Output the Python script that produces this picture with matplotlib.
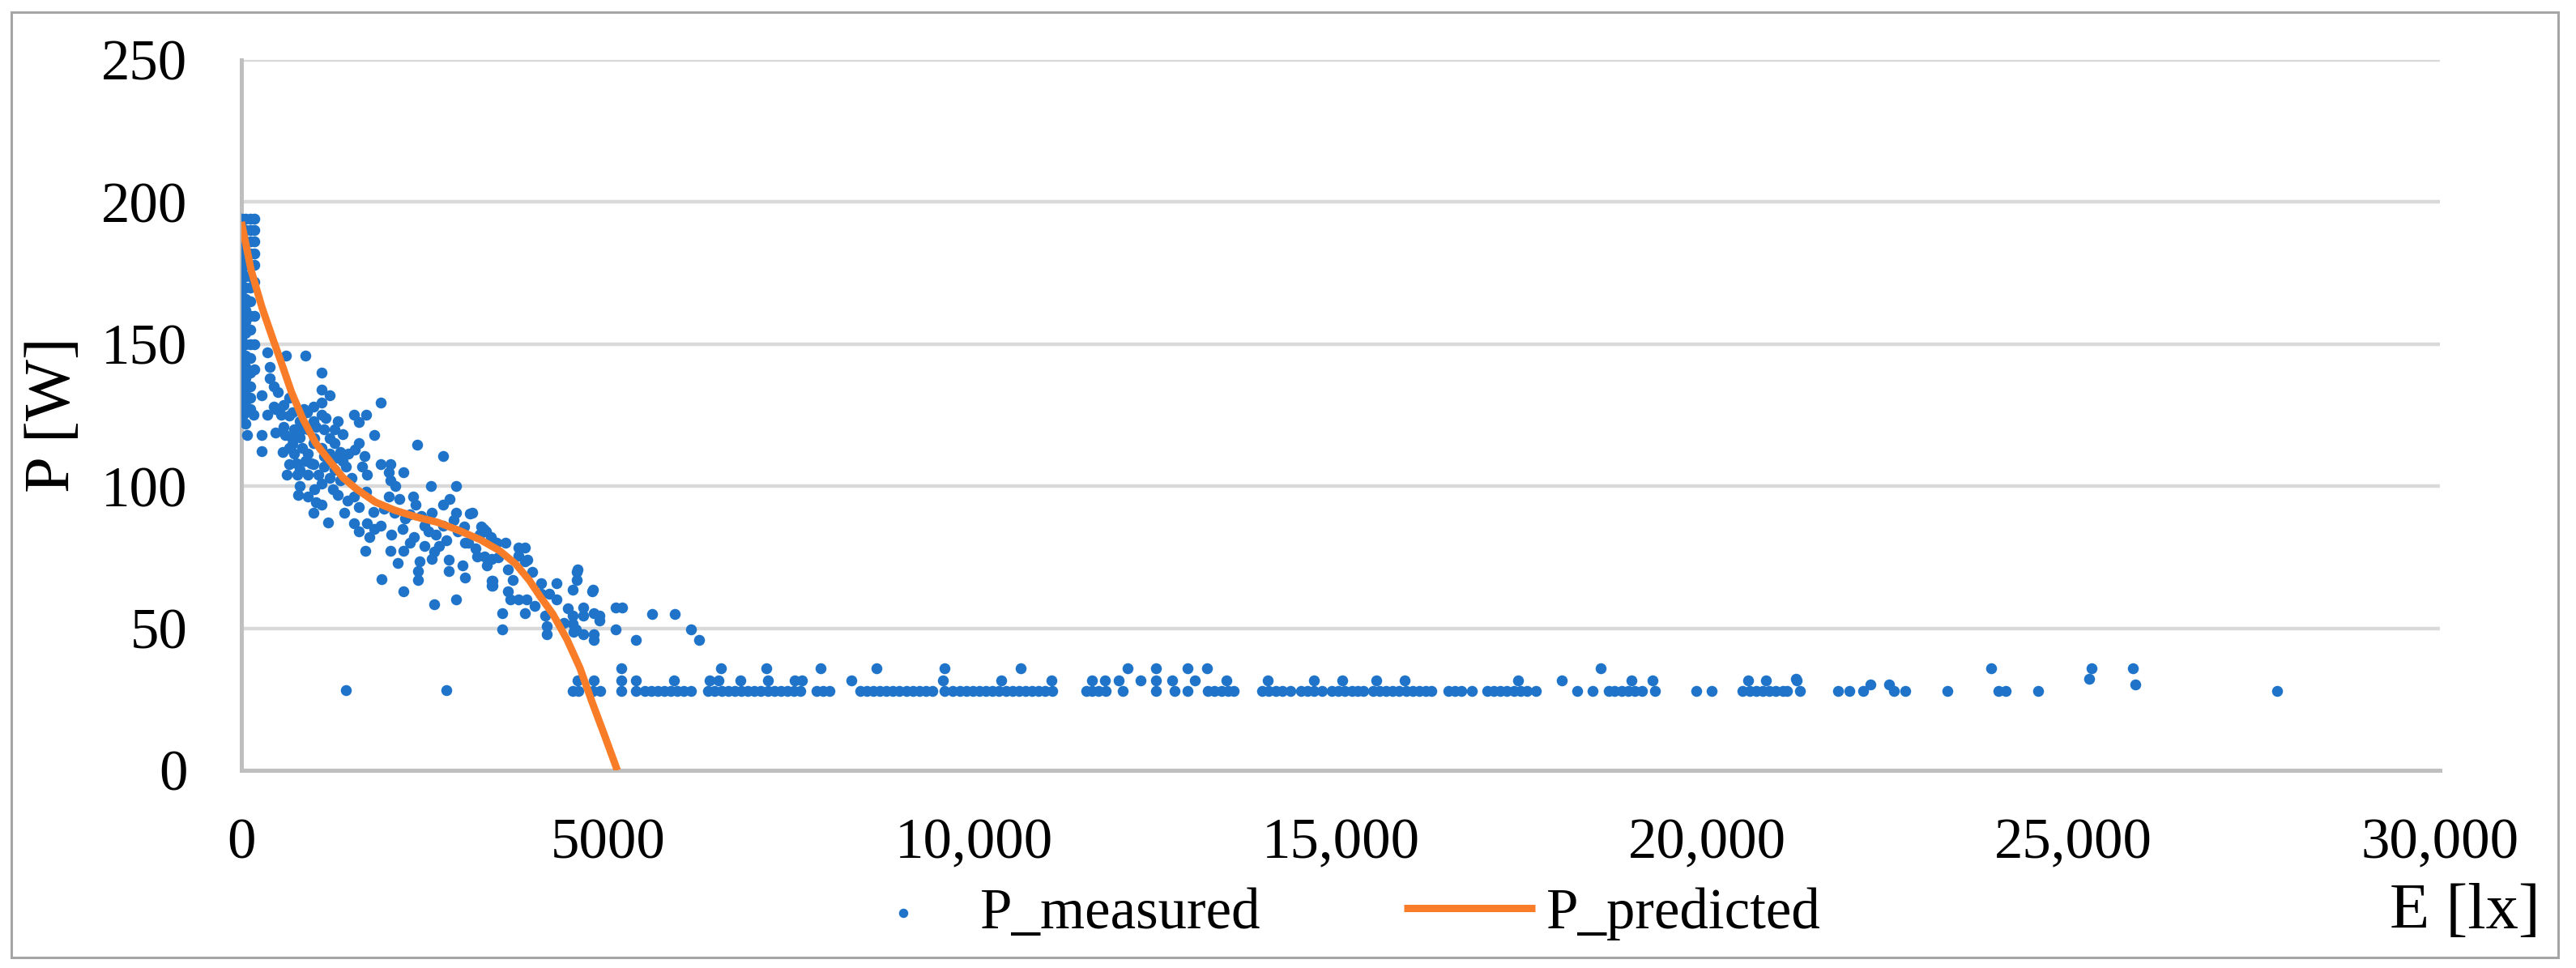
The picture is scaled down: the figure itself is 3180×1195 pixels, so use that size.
import matplotlib
matplotlib.use('Agg')
import matplotlib.pyplot as plt
from matplotlib.patches import Rectangle

plt.rcParams['font.family'] = ['Liberation Serif', 'DejaVu Serif']

# column of points at very low illuminance
E_column = [0, 0, 0, 0, 0, 0, 0, 0, 0, 0, 0, 0, 0, 0, 0, 0, 0, 0, 0, 0, 0, 0, 0,
            60, 60, 60, 60, 60, 60, 60, 60, 60, 60, 60, 60, 60, 60, 60, 60, 60, 60, 60,
            120, 120, 120, 120, 120, 120, 120, 120, 120, 120, 120, 120, 120, 120, 120, 120,
            180, 180, 180, 180, 180, 180, 180, 180, 180]
P_column = [194, 191, 188, 185, 182, 179, 176, 173, 170, 167, 164, 161, 158, 155, 152, 149, 146, 143, 140, 137, 134, 131, 128,
            194, 190, 186, 182, 178, 174, 170, 166, 162, 158, 154, 150, 146, 142, 138, 134, 130, 126, 122,
            194, 190, 186, 182, 178, 174, 170, 165, 160, 155, 150, 145, 140, 135, 131, 127,
            194, 190, 186, 182, 178, 172, 160, 150, 141]

# decreasing cloud between 300 and 3500 lx
E_mid = [354, 612, 870, 391, 391, 446, 1091, 1091, 1201, 1091, 980, 1901, 446, 280, 1533, 1699, 1607, 1091,
         1809, 2399, 2749, 464, 22, 170, 354, 464, 77, 280, 280,
         575, 649, 575, 685, 796, 906, 1017, 1128, 1312, 1386, 1275, 1201, 1091, 980, 833, 722, 649, 796,
         980, 1128, 1275, 1422, 1349, 1091, 906, 722, 906, 649, 1275, 980, 796, 1128, 1459,
         700, 850, 1000, 1200, 1350, 750, 870, 1050, 1200, 1380, 560, 620,
         1607, 1681, 1643, 1717, 1901, 2030, 2012, 2030, 2215, 2583, 2933, 796, 778, 906, 1017, 1091, 1312,
         980, 1183, 1404, 1533, 1607, 1533, 1717, 1809, 2012, 2159, 2344, 2381, 2086, 2233, 2454, 2602,
         2749, 2841, 2933, 3154, 3044, 3302,
         1600, 1750, 1900, 2050, 2200, 2350, 2500, 2650, 2800, 2950, 3100, 3250, 1690, 2036, 2208, 2134,
         2430, 2603, 1912, 2208, 2924, 2628, 3220, 3319, 3121, 3269, 3417, 2406, 2406, 2628, 2825, 2825,
         3022, 2300, 2700, 3047, 3417, 3417,
         500, 540, 600, 650, 700, 760, 820, 900, 950, 1000, 1150, 1250, 1300, 1450, 1500, 1550, 1700,
         1800, 1950, 2100, 2300, 2500, 2550, 2750, 2900, 3050, 3200]
P_mid = [147, 146, 146, 142, 138, 135, 140, 134, 132, 129.5, 128, 129.5, 128, 132, 125, 125, 122.5, 125,
         118, 114.5, 110.5, 119, 125, 125, 125, 127, 118, 118, 112.4,
         128.6, 124.8, 121, 117.2, 122.9, 120, 121, 120, 122.9, 118.2, 115.3, 111.5, 113.4, 115.3, 113.4, 111.5, 107.7, 105.8,
         107.7, 106.8, 105.8, 106.8, 102, 101, 103.9, 120, 111.5, 113.4, 120, 122.9, 117.2, 110.6, 111.5,
         126, 127, 117, 117, 112, 108, 109, 104, 103, 109, 112, 104,
         115.3, 110.6, 106.8, 103.9, 107.7, 107.7, 104.9, 102, 104.9, 100, 100, 100.1, 96.8, 96.3, 94.4, 93.4, 96.8,
         90.6, 87.3, 90.6, 96.3, 92.5, 86.8, 86.8, 84.9, 96.3, 95.4, 96.3, 93.5, 90.6, 88.7, 89.6, 90.6,
         93.5, 95.4, 90.6, 90.6, 85.8, 84.9,
         84, 82, 86, 83, 85, 82, 86, 83, 81, 84, 80, 83, 77.3, 77.3, 77.3, 73,
         73.4, 74.4, 67.3, 63, 60.2, 58.3, 75.3, 75.3, 90.5, 85.8, 81, 70, 67, 77, 74, 70,
         72, 80, 79, 67.7, 66.8, 64.9,
         133, 125, 118, 131, 115, 104, 120, 126, 108, 99, 124, 99, 110, 95, 103, 113, 98,
         91, 92, 100, 90, 79, 84, 86, 88, 80, 78]

# steep part between 3300 and 6300 lx
E_drop = [3338, 3400, 3485, 3412, 3430, 3430, 3633, 3633, 3780, 3872, 3780, 3872, 3964, 3670, 3780, 3890,
          4093, 4093, 4296, 4296, 4572, 4572, 4517, 4794, 3559, 3559, 3872, 4149, 4167, 4167, 4517, 4517,
          4535, 4665, 4665, 4812, 4886, 4886, 4812, 4812, 5107, 5199, 5107, 5383, 5604, 5918, 6139, 6249,
          4582, 4789, 4567, 4666, 3350, 3500, 3600, 3700, 3900, 4000, 4200, 4400, 4450]
P_drop = [84, 82, 80, 74.4, 66.8, 65, 70.6, 63.1, 78.3, 78.3, 75.4, 73.5, 69.7, 60.2, 60.2, 60.2,
          65.9, 62.1, 65.9, 60.2, 69.7, 66.9, 63.5, 63.5, 55.4, 49.7, 55.4, 54.5, 50.7, 47.9, 54.5, 51.6,
          48.8, 57.4, 54.5, 55.4, 54.5, 52.6, 47.9, 46, 57.4, 57.4, 49.7, 46, 55, 55, 49.7, 46,
          70.6, 63, 49.7, 47.8, 72, 75, 80, 67, 74, 58, 62, 52, 57]

# flat band at high illuminance
E_band = [1430, 2800, 4520, 4600, 4800, 4900, 5184, 5381,
          5505, 5590, 5680, 5770, 5860, 5950, 6040, 6130,
          6370, 6460, 6550, 6640, 6730, 6820, 6910, 7000, 7090, 7180, 7270, 7360, 7450, 7540, 7630,
          7850, 7940, 8030, 8440, 8530, 8620, 8710, 8800, 8890, 8980, 9070, 9160, 9250, 9340, 9430,
          9600, 9700, 9800, 9890, 9980, 10070, 10160, 10250, 10340, 10430, 10520, 10610, 10700, 10790, 10880, 10970, 11060,
          11525, 11610, 11700, 11790, 12027, 12485, 12732, 12908,
          13190, 13280, 13370, 13460, 13543, 13930, 14020, 14110, 14200, 14318, 14459, 14550, 14640, 14741,
          14882, 14970, 15060, 15150, 15230, 15305, 15446, 15530, 15620, 15710, 15800, 15890, 15980, 16070, 16160, 16240,
          16468, 16560, 16650, 16786, 16997, 17090, 17180, 17270, 17360, 17450, 17540, 17667, 18231, 18442,
          18654, 18740, 18830, 18920, 19010, 19110, 19288, 19852, 20064,
          20487, 20580, 20670, 20760, 20850, 20940, 21030, 21262,
          21087, 21785, 21944, 22134, 22547, 22705, 23276, 23974, 24070, 24514, 27781,
          4592, 4814, 5184, 5381, 5899, 6393, 6516, 6812, 7182, 7553, 7651, 8318, 9576, 10366, 11056, 11969,
          11604, 11780, 12274, 12485, 12697, 13014, 13437, 14001, 14635, 15023, 15481, 15869, 17420, 18019,
          18971, 19253, 20557, 20804, 21227, 21214, 22230, 22483, 25846, 25212,
          5184, 6541, 7158, 7898, 8663, 9600, 10637, 12093, 12485, 12908, 13176, 18548, 23879, 25243, 25814]
P_band = [28.2, 28.2, 27.8, 27.8, 27.8, 27.8, 27.8, 27.8,
          27.8, 27.8, 27.8, 27.8, 27.8, 27.8, 27.8, 27.8,
          27.8, 27.8, 27.8, 27.8, 27.8, 27.8, 27.8, 27.8, 27.8, 27.8, 27.8, 27.8, 27.8, 27.8, 27.8,
          27.8, 27.8, 27.8, 27.8, 27.8, 27.8, 27.8, 27.8, 27.8, 27.8, 27.8, 27.8, 27.8, 27.8, 27.8,
          27.8, 27.8, 27.8, 27.8, 27.8, 27.8, 27.8, 27.8, 27.8, 27.8, 27.8, 27.8, 27.8, 27.8, 27.8, 27.8, 27.8,
          27.8, 27.8, 27.8, 27.8, 27.8, 27.8, 27.8, 27.8,
          27.8, 27.8, 27.8, 27.8, 27.8, 27.8, 27.8, 27.8, 27.8, 27.8, 27.8, 27.8, 27.8, 27.8,
          27.8, 27.8, 27.8, 27.8, 27.8, 27.8, 27.8, 27.8, 27.8, 27.8, 27.8, 27.8, 27.8, 27.8, 27.8, 27.8,
          27.8, 27.8, 27.8, 27.8, 27.8, 27.8, 27.8, 27.8, 27.8, 27.8, 27.8, 27.8, 27.8, 27.8,
          27.8, 27.8, 27.8, 27.8, 27.8, 27.8, 27.8, 27.8, 27.8,
          27.8, 27.8, 27.8, 27.8, 27.8, 27.8, 27.8, 27.8,
          27.8, 27.8, 27.8, 27.8, 27.8, 27.8, 27.8, 27.8, 27.8, 27.8, 27.8,
          31.6, 31.6, 31.6, 31.6, 31.6, 31.6, 31.6, 31.6, 31.6, 31.6, 31.6, 31.6, 31.6, 31.6, 31.6, 31.6,
          31.6, 31.6, 31.6, 31.6, 31.6, 31.6, 31.6, 31.6, 31.6, 31.6, 31.6, 31.6, 31.6, 31.6,
          31.6, 31.6, 31.6, 31.6, 31.6, 32.1, 30.2, 30.2, 30.2, 32.1,
          35.9, 35.9, 35.9, 35.9, 35.9, 35.9, 35.9, 35.9, 35.9, 35.9, 35.9, 35.9, 35.9, 35.9, 35.9]

# fitted curve
E_pred = [0, 133, 280, 427, 538, 685, 833, 1017, 1201, 1386, 1570, 1828, 2086, 2381, 2675, 2970,
          3265, 3523, 3744, 3928, 4076, 4250, 4444, 4620, 4786, 4960, 5130]
P_pred = [193, 176, 163, 152, 144, 133, 124, 115, 109, 103, 99, 94.4, 91.6, 89.2, 87.3, 84.4,
          81.1, 77.3, 72.6, 66.9, 61.2, 55, 46, 36, 24, 12, 0]

x_ticks = [0, 5000, 10000, 15000, 20000, 25000, 30000]
x_labels = ['0', '5000', '10,000', '15,000', '20,000', '25,000', '30,000']
y_ticks = [0, 50, 100, 150, 200, 250]

blue = '#1f74c9'
orange = '#f97c28'

fig = plt.figure(figsize=(31.8, 11.95), dpi=100)
ax = fig.add_axes([0.0937, 0.2042, 0.8535, 0.7339])

E_all = E_column + E_mid + E_drop + E_band
P_all = P_column + P_mid + P_drop + P_band
ax.scatter(E_all, P_all, s=95, color=blue, linewidths=0, zorder=3, label='P_measured')
ax.plot(E_pred, P_pred, color=orange, lw=6.5, zorder=4, label='P_predicted',
        solid_capstyle='butt', solid_joinstyle='round')

ax.set_xlim(0, 30000)
ax.set_ylim(0, 250)
ax.set_xticks(x_ticks)
ax.set_xticklabels(x_labels)
ax.set_yticks(y_ticks)
ax.tick_params(length=0, labelsize=51)
ax.tick_params(axis='y', pad=48)
ax.tick_params(axis='x', pad=42)

ax.grid(axis='y', color='#d9d9d9', lw=3.2, zorder=0)
ax.set_axisbelow(True)
for s in ['top', 'right']:
    ax.spines[s].set_visible(False)
for s in ['left', 'bottom']:
    ax.spines[s].set_color('#bfbfbf')
    ax.spines[s].set_linewidth(3.6)

ax.set_ylabel('P [W]', fontsize=58)
ax.yaxis.set_label_coords(-0.072, 0.5)

fig.text(0.986, 0.057, 'E [lx]', fontsize=58, ha='right', va='center')

fig.legend(loc='center', bbox_to_anchor=(0.516, 0.056), ncol=2, frameon=False,
           fontsize=51, handlelength=2.28, handletextpad=0.2, columnspacing=2.5,
           scatterpoints=1, markerscale=0.85)

fig.patches.append(Rectangle((14 / 3180, 1 - 1182 / 1195), (3158 - 14) / 3180, (1182 - 15) / 1195,
                             transform=fig.transFigure, fill=False, edgecolor='#a6a6a6', lw=2.2))

fig.savefig('out.png', dpi=100, facecolor='white')
